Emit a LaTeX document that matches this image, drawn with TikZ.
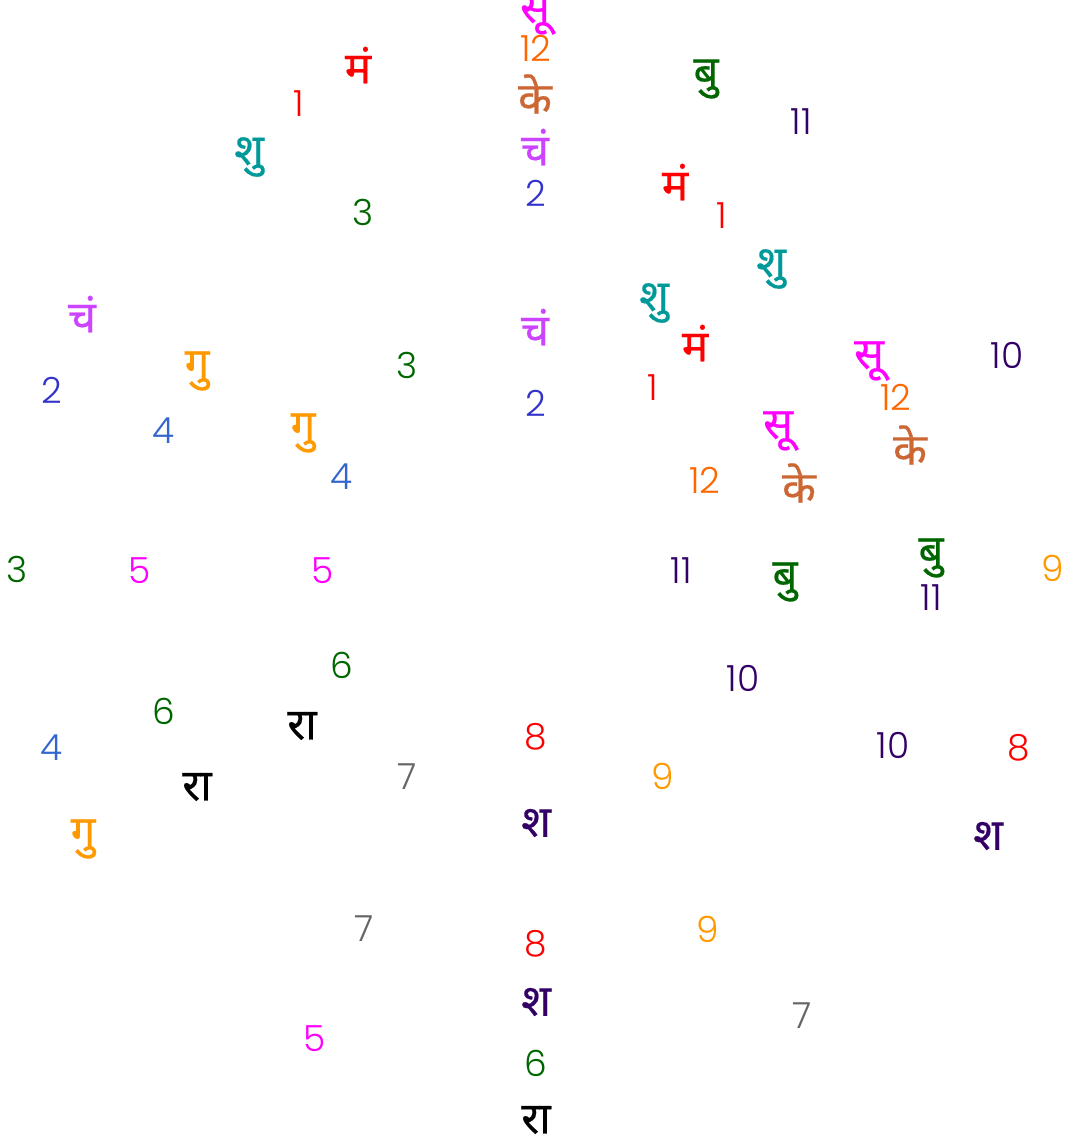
\documentclass[tikz,border=0pt]{standalone}
\usepackage{fontspec}
\setmainfont{Poppins Light}
\newfontfamily\devfont[Script=Devanagari,FakeBold=0.4]{Noto Sans}
\definecolor{cmag}{HTML}{FF00FF}
\definecolor{corange}{HTML}{FF6600}
\definecolor{camber}{HTML}{FF9900}
\definecolor{cbrown}{HTML}{CC6633}
\definecolor{cviolet}{HTML}{CC44FF}
\definecolor{cblue}{HTML}{3333CC}
\definecolor{cblueb}{HTML}{3366CC}
\definecolor{cgreen}{HTML}{006600}
\definecolor{cgray}{HTML}{666666}
\definecolor{cindigo}{HTML}{330066}
\definecolor{cteal}{HTML}{009999}
\tikzset{
  num/.style={inner sep=0pt,font=\fontsize{18}{18}\selectfont},
  graha/.style={inner sep=0pt,font=\fontsize{22}{22}\selectfont\devfont},
}
\begin{document}
\begin{tikzpicture}[x=0.5pt,y=-0.5pt]
\useasboundingbox (0,0) rectangle (1071,1144);
% centre column
\node[graha,text=cmag] (su0) at (535,15) {सू};
\node[num,text=corange] (h12a) at (536,48) {12};
\node[graha,text=cbrown] (ke0) at (535,94) {के};
\node[graha,text=cviolet] (ch0) at (535,147) {चं};
\node[num,text=cblue] (h2a) at (536,193) {2};
\node[graha,text=cviolet] (ch1) at (535,327) {चं};
\node[num,text=cblue] (h2b) at (536,403) {2};
\node[num,text=red] (h8a) at (536,737) {8};
\node[graha,text=cindigo] (sh0) at (536,823) {श};
\node[num,text=red] (h8b) at (536,944) {8};
\node[graha,text=cindigo] (sh1) at (536,1002) {श};
\node[num,text=cgreen] (h6a) at (536,1063) {6};
\node[graha,text=black] (ra0) at (536,1120) {रा};
% left side
\node[graha,text=red] (ma0) at (358,65) {मं};
\node[num,text=red] (h1a) at (299,104) {1};
\node[graha,text=cteal] (sk0) at (249,157) {शु};
\node[num,text=cgreen] (h3a) at (363,212) {3};
\node[graha,text=cviolet] (ch2) at (82,314) {चं};
\node[graha,text=camber] (gu0) at (197,371) {गु};
\node[num,text=cgreen] (h3b) at (407,365) {3};
\node[num,text=cblue] (h2c) at (52,390) {2};
\node[num,text=cblueb] (h4a) at (164,431) {4};
\node[graha,text=camber] (gu1) at (303,433) {गु};
\node[num,text=cblueb] (h4b) at (342,477) {4};
\node[num,text=cgreen] (h3c) at (17,569) {3};
\node[num,text=cmag] (h5a) at (140,571) {5};
\node[num,text=cmag] (h5b) at (323,571) {5};
\node[num,text=cgreen] (h6b) at (342,665) {6};
\node[num,text=cgreen] (h6c) at (164,711) {6};
\node[graha,text=black] (ra1) at (302,726) {रा};
\node[num,text=cblueb] (h4c) at (52,748) {4};
\node[num,text=cgray] (h7a) at (407,777) {7};
\node[graha,text=black] (ra2) at (197,787) {रा};
\node[graha,text=camber] (gu2) at (83,839) {गु};
\node[num,text=cgray] (h7b) at (364,929) {7};
\node[num,text=cmag] (h5c) at (315,1039) {5};
% right side
\node[graha,text=cgreen] (bu0) at (706,79) {बु};
\node[num,text=cindigo] (h11a) at (801,122) {11};
\node[graha,text=red] (ma1) at (675,182) {मं};
\node[num,text=red] (h1b) at (722,216) {1};
\node[graha,text=cteal] (sk1) at (771,269) {शु};
\node[graha,text=cteal] (sk2) at (654,303) {शु};
\node[graha,text=red] (ma2) at (695,343) {मं};
\node[graha,text=cmag] (su1) at (869,361) {सू};
\node[num,text=cindigo] (h10a) at (1007,355) {10};
\node[num,text=red] (h1c) at (653,388) {1};
\node[num,text=corange] (h12b) at (896,397) {12};
\node[graha,text=cmag] (su2) at (778,431) {सू};
\node[graha,text=cbrown] (ke1) at (910,445) {के};
\node[num,text=corange] (h12c) at (705,480) {12};
\node[graha,text=cbrown] (ke2) at (799,483) {के};
\node[num,text=cindigo] (h11b) at (681,571) {11};
\node[graha,text=cgreen] (bu1) at (785,582) {बु};
\node[graha,text=cgreen] (bu2) at (931,558) {बु};
\node[num,text=cindigo] (h11c) at (931,598) {11};
\node[num,text=camber] (h9a) at (1053,568) {9};
\node[num,text=cindigo] (h10b) at (743,678) {10};
\node[num,text=cindigo] (h10c) at (893,745) {10};
\node[num,text=red] (h8c) at (1019,748) {8};
\node[num,text=camber] (h9b) at (663,776) {9};
\node[graha,text=cindigo] (sh2) at (988,836) {श};
\node[num,text=camber] (h9c) at (708,929) {9};
\node[num,text=cgray] (h7c) at (802,1016) {7};
\end{tikzpicture}
\end{document}
